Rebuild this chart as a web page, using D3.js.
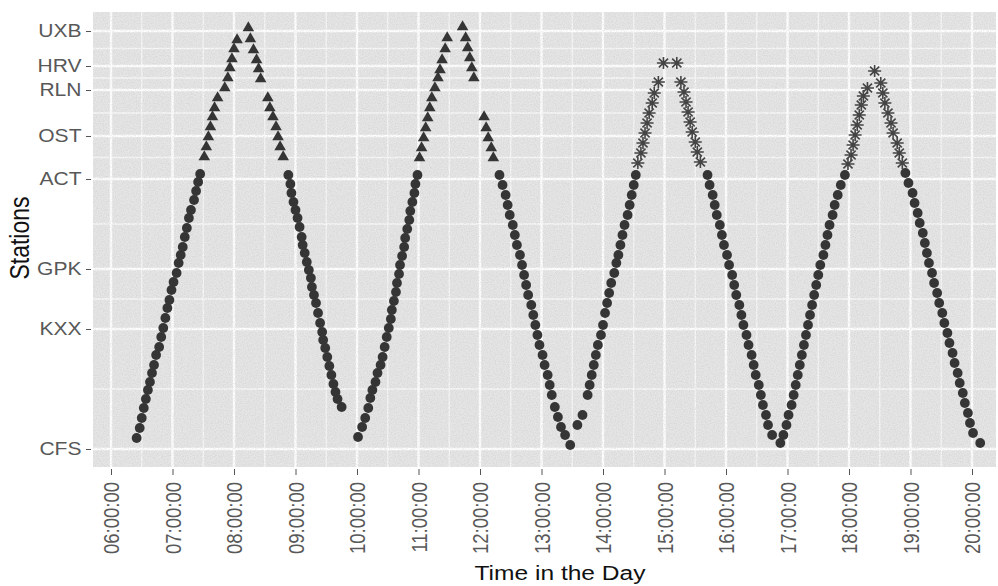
<!DOCTYPE html>
<html>
<head>
<meta charset="utf-8">
<script src="https://cdn.jsdelivr.net/npm/d3@7"></script>
<style>
body { margin: 0; background: #fff; }
svg { display: block; }
text { font-family: "Liberation Sans", Arial, sans-serif; }
</style>
</head>
<body>
<svg></svg>
<script>
const size = { w: 998, h: 586 };
const panel = { l: 93, t: 12, r: 996, b: 467 };
const stretch = 1.17; // the scan is wider than it is tall

// stations along the line (distance from CFS)
const stations = ["CFS", "KXX", "GPK", "ACT", "OST", "RLN", "HRV", "UXB"];
const stationKm = [0, 12.0, 18.0, 27.0, 31.3, 35.9, 38.3, 41.8];
const hourTicks = ["06:00:00", "07:00:00", "08:00:00", "09:00:00", "10:00:00",
	"11:00:00", "12:00:00", "13:00:00", "14:00:00", "15:00:00", "16:00:00",
	"17:00:00", "18:00:00", "19:00:00", "20:00:00"];
const tripBranch = ["UXB", "UXB", "HRV", "HRV"];
const branchFrom = 28; // beyond ACT the train runs on a branch

const trip1Time = ["06:25","06:28","06:30","06:32","06:34","06:36","06:38","06:40","06:42","06:44","06:47","06:49","06:51","06:53","06:55","06:57","06:59","07:01","07:04","07:06","07:08","07:10","07:12","07:14","07:16","07:18","07:21","07:23","07:25","07:27",
	"07:31","07:33","07:35","07:37","07:39","07:41","07:44","07:51","07:54","07:56","07:58","08:00","08:03","08:14",
	"08:16","08:19","08:22","08:24","08:26","08:33","08:35","08:38","08:41","08:43","08:45","08:48",
	"08:53","08:55","08:56","08:58","09:00","09:02","09:04","09:06","09:07","09:09","09:11","09:13","09:15","09:16","09:18","09:20","09:22","09:24","09:26","09:27","09:29","09:31","09:33","09:35","09:37","09:39","09:41","09:45"];
const trip1Km = [1.1,2.1,3.1,4.1,5.0,5.9,6.7,7.6,8.4,9.4,10.2,11.2,12.1,13.1,14.1,14.9,15.9,16.7,17.6,18.6,19.4,20.2,21.2,22.1,23.1,23.9,24.9,25.8,26.7,27.5,
	29.2,30.2,31.2,32.2,33.2,34.1,35.1,36.1,37.1,38.1,39.0,40.0,40.9,42.1,
	41.0,39.9,38.9,38.0,37.0,35.1,34.1,33.2,32.2,31.2,30.2,29.2,
	27.4,26.5,25.6,24.7,23.9,23.1,22.2,21.2,20.4,19.6,18.7,17.9,17.1,16.2,15.4,14.6,13.6,12.6,11.7,10.9,10.1,9.2,8.3,7.4,6.5,5.7,5.0,4.2];

const trip2Time = ["10:01","10:05","10:08","10:11","10:13","10:15","10:18","10:20","10:23","10:25","10:27","10:29",
	"10:31","10:33","10:34","10:36","10:38","10:39","10:41","10:42","10:44","10:46","10:47","10:49","10:51","10:52","10:54","10:56","10:57","10:59",
	"11:01","11:03","11:05","11:07","11:09","11:11","11:13","11:16","11:19","11:21","11:23","11:26","11:28","11:43",
	"11:46","11:48","11:50","11:52","11:54","12:04","12:06","12:08","12:11","12:13",
	"12:19","12:22","12:25","12:27","12:29","12:32","12:34","12:36","12:39","12:41","12:43","12:45","12:47","12:50","12:52","12:54","12:56","12:58","13:01","13:03","13:06","13:08","13:10","13:13","13:16","13:19","13:23","13:28"];
const trip2Km = [1.2,2.2,3.1,4.1,5.1,5.9,6.7,7.6,8.4,9.2,10.2,11.2,
	12.1,13.0,13.9,14.8,15.7,16.6,17.5,18.4,19.3,20.2,21.1,22.0,22.9,23.8,24.7,25.6,26.5,27.4,
	29.1,30.1,31.1,32.1,33.1,34.1,35.1,36.1,37.1,37.9,38.9,40.0,41.1,42.2,
	41.1,40.1,39.1,38.1,37.1,33.2,32.1,31.1,30.1,29.1,
	27.4,26.4,25.4,24.4,23.4,22.4,21.4,20.4,19.4,18.4,17.4,16.4,15.4,14.4,13.4,12.4,11.4,10.4,9.4,8.4,7.4,6.4,5.4,4.2,3.2,2.2,1.4,0.4];

const trip3Time = ["13:35","13:40","13:45","13:47","13:49","13:51","13:53","13:55","13:58","14:00","14:02","14:04","14:06","14:08","14:11","14:13","14:15","14:17","14:19","14:21","14:24","14:26","14:28","14:30","14:32",
	"14:34","14:37","14:39","14:41","14:43","14:45","14:48","14:50","14:54","14:59","15:12",
	"15:16","15:19","15:21","15:23","15:25","15:27","15:30","15:32","15:35",
	"15:42","15:44","15:47","15:49","15:51","15:54","15:56","15:58","16:01","16:03","16:06","16:08","16:10","16:13","16:15","16:17","16:20","16:22","16:25","16:27","16:29","16:32","16:34","16:36","16:39","16:41","16:45","16:53"];
const trip3Km = [2.4,3.4,5.4,6.4,7.4,8.4,9.4,10.4,11.4,12.4,13.6,14.6,15.6,16.6,17.6,18.6,19.4,20.4,21.4,22.4,23.4,24.4,25.4,26.4,27.4,
	28.6,29.6,30.6,31.6,32.6,33.6,34.6,35.6,36.7,38.6,38.6,
	36.7,35.7,34.7,33.7,32.7,31.7,30.7,29.7,28.7,
	27.4,26.4,25.4,24.4,23.4,22.4,21.4,20.4,19.4,18.4,17.4,16.4,15.4,14.4,13.4,12.4,11.4,10.4,9.4,8.4,7.4,6.4,5.4,4.4,3.4,2.4,1.4,0.6];

const trip4Time = ["16:56","16:59","17:01","17:04","17:06","17:08","17:10","17:12","17:14","17:16","17:18","17:20","17:22","17:24","17:26","17:28","17:30","17:32","17:35","17:37","17:39","17:41","17:44","17:46","17:49","17:52","17:56",
	"17:59","18:02","18:04","18:06","18:08","18:10","18:12","18:14","18:18","18:25",
	"18:31","18:33","18:35","18:38","18:41","18:43","18:47","18:49","18:52",
	"18:55","18:58","19:02","19:04","19:07","19:09","19:12","19:14","19:16","19:18","19:21","19:23","19:26","19:28","19:31","19:33","19:36","19:38","19:41","19:43","19:46","19:48","19:51","19:53","19:56","19:58","20:01","20:08"];
const trip4Km = [1.4,2.4,3.4,4.4,5.4,6.4,7.4,8.4,9.4,10.4,11.4,12.4,13.4,14.4,15.4,16.4,17.4,18.4,19.4,20.4,21.4,22.4,23.4,24.4,25.4,26.4,27.4,
	28.5,29.4,30.4,31.4,32.4,33.4,34.4,35.3,36.1,37.8,
	36.6,35.6,34.6,33.6,32.6,31.6,30.6,29.6,28.6,
	27.6,26.6,25.6,24.6,23.6,22.6,21.6,20.6,19.6,18.6,17.6,16.6,15.6,14.6,13.6,12.6,11.6,10.6,9.6,8.6,7.6,6.6,5.6,4.6,3.6,2.6,1.6,0.6];

const svg = d3.select("svg").attr("width", size.w).attr("height", size.h);

const parseTime = d3.timeParse("%H:%M");
const parseTick = d3.timeParse("%H:%M:%S");
const fmtTick = d3.timeFormat("%H:%M:%S");

const trips = [
	{ branch: tripBranch[0], time: trip1Time, km: trip1Km },
	{ branch: tripBranch[1], time: trip2Time, km: trip2Km },
	{ branch: tripBranch[2], time: trip3Time, km: trip3Km },
	{ branch: tripBranch[3], time: trip4Time, km: trip4Km },
];
const points = trips.flatMap((trip) =>
	trip.time.map((s, i) => ({
		t: parseTime(s),
		km: trip.km[i],
		shape: trip.km[i] > branchFrom ? trip.branch : "trunk",
	}))
);

const hours = hourTicks.map(parseTick);
const x = d3.scaleTime().domain([hours[0], hours[hours.length - 1]]).range([111, 972]);
const y = d3.scaleLinear().domain([0, 42]).range([449, 29]);

// grain + slight softness, like the scanned original
let defs = svg.append("defs");
let grain = defs.append("filter").attr("id", "grain")
	.attr("x", 0).attr("y", 0).attr("width", 1).attr("height", 1);
grain.append("feTurbulence").attr("type", "fractalNoise")
	.attr("baseFrequency", 0.85).attr("numOctaves", 2).attr("seed", 3);
grain.append("feColorMatrix").attr("type", "matrix")
	.attr("values", "0 0 0 0 0.45  0 0 0 0 0.45  0 0 0 0 0.45  0 0 0 -1.6 1.05");
defs.append("filter").attr("id", "soft")
	.append("feGaussianBlur").attr("stdDeviation", 0.45);

// panel + grid
svg.append("rect")
	.attr("x", panel.l).attr("y", panel.t)
	.attr("width", panel.r - panel.l).attr("height", panel.b - panel.t)
	.attr("fill", "#e6e6e6");

let gridG = svg.append("g");
let halfHours = d3.timeMinute.every(30).range(d3.timeMinute.offset(hours[0], -60), d3.timeMinute.offset(hours[hours.length - 1], 60))
	.filter((d) => d.getMinutes() === 30 && x(d) > panel.l && x(d) < panel.r);
let minorKm = stationKm.slice(1).map((d, i) => (d + stationKm[i]) / 2);

gridG.selectAll(".vminor").data(halfHours).enter().append("line")
	.attr("x1", (d) => x(d)).attr("x2", (d) => x(d))
	.attr("y1", panel.t).attr("y2", panel.b)
	.attr("stroke", "#f8f8f8").attr("stroke-width", 1.3);
gridG.selectAll(".hminor").data(minorKm).enter().append("line")
	.attr("x1", panel.l).attr("x2", panel.r)
	.attr("y1", (d) => y(d)).attr("y2", (d) => y(d))
	.attr("stroke", "#f8f8f8").attr("stroke-width", 1.3);
gridG.selectAll(".vmajor").data(hours).enter().append("line")
	.attr("x1", (d) => x(d)).attr("x2", (d) => x(d))
	.attr("y1", panel.t).attr("y2", panel.b)
	.attr("stroke", "#fff").attr("stroke-width", 2.4);
gridG.selectAll(".hmajor").data(stationKm).enter().append("line")
	.attr("x1", panel.l).attr("x2", panel.r)
	.attr("y1", (d) => y(d)).attr("y2", (d) => y(d))
	.attr("stroke", "#fff").attr("stroke-width", 2.4);

svg.append("rect")
	.attr("x", panel.l).attr("y", panel.t)
	.attr("width", panel.r - panel.l).attr("height", panel.b - panel.t)
	.attr("filter", "url(#grain)").attr("opacity", 0.35);

// points
const ink = "#363636";
let pointG = svg.append("g").attr("filter", "url(#soft)");
pointG.selectAll("circle")
	.data(points.filter((d) => d.shape === "trunk"))
	.enter().append("circle")
	.attr("cx", (d) => x(d.t)).attr("cy", (d) => y(d.km))
	.attr("r", 4.9).attr("fill", ink);
pointG.selectAll(".tri")
	.data(points.filter((d) => d.shape === "UXB"))
	.enter().append("path")
	.attr("transform", (d) => `translate(${x(d.t)},${y(d.km)})`)
	.attr("d", d3.symbol(d3.symbolTriangle, 58))
	.attr("fill", ink);
pointG.selectAll(".star")
	.data(points.filter((d) => d.shape === "HRV"))
	.enter().append("path")
	.attr("transform", (d) => `translate(${x(d.t)},${y(d.km)})`)
	.attr("d", "M-6.5,0H6.5M0,-6V6M-4.6,-4.3L4.6,4.3M-4.6,4.3L4.6,-4.3")
	.attr("fill", "none").attr("stroke", "#444").attr("stroke-width", 1.6);

// axes
let yAxisG = svg.append("g")
	.attr("transform", `translate(${panel.l - 2},0)`)
	.call(d3.axisLeft(y).tickValues(stationKm).tickFormat((d, i) => stations[i]).tickSize(5));
yAxisG.select(".domain").remove();
yAxisG.selectAll("line").attr("stroke", "#555");
yAxisG.selectAll("text")
	.attr("x", -9.5 / stretch)
	.attr("transform", `scale(${stretch},1)`)
	.style("font-size", "18px").attr("fill", "#585858");

let xAxisG = svg.append("g")
	.attr("transform", `translate(0,${panel.b + 2})`)
	.call(d3.axisBottom(x).tickValues(hours).tickFormat(fmtTick).tickSize(6));
xAxisG.select(".domain").remove();
xAxisG.selectAll("line").attr("stroke", "#555");
xAxisG.selectAll("text")
	.attr("transform", `scale(${stretch},1) rotate(-90)`)
	.attr("x", -13).attr("y", 0).attr("dy", "0.36em")
	.attr("text-anchor", "end")
	.style("font-size", "18.5px").attr("fill", "#585858");

svg.append("text")
	.attr("transform", `translate(560,580) scale(${stretch},1)`)
	.attr("text-anchor", "middle")
	.style("font-size", "21px").attr("fill", "#111")
	.text("Time in the Day");

svg.append("text")
	.attr("transform", `translate(29,238) scale(${stretch},1) rotate(-90)`)
	.attr("text-anchor", "middle")
	.style("font-size", "23px").attr("fill", "#111")
	.text("Stations");
</script>
</body>
</html>
